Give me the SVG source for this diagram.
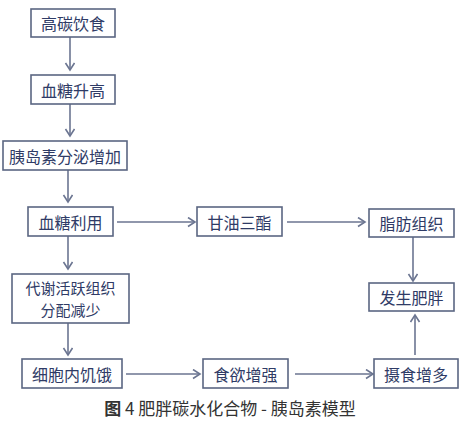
<svg xmlns="http://www.w3.org/2000/svg" width="474" height="431" viewBox="0 0 474 431">
<defs>
<style>
.box{fill:#ffffff;stroke:#5b6682;stroke-width:1.6}
.t{font-family:"Noto Sans CJK SC","Noto Sans",sans-serif;font-size:16px;fill:#2f3b66;text-anchor:middle;dominant-baseline:central}
.t2{font-size:15px}
.c{stroke:#6b7591;stroke-width:1.6;fill:none;marker-end:url(#ah)}
.cap{font-family:"Noto Sans CJK SC",sans-serif;font-size:17px;fill:#333333;text-anchor:middle}
</style>
<marker id="ah" markerUnits="userSpaceOnUse" markerWidth="12" markerHeight="12" refX="8" refY="5" orient="auto">
<path d="M1,0.5 L8,5 L1,9.5" fill="none" stroke="#6b7591" stroke-width="1.6"/>
</marker>
</defs>
<rect width="474" height="431" fill="#ffffff"/>
<g id="connectors">
<line class="c" x1="70" y1="37" x2="70" y2="70"/>
<line class="c" x1="70" y1="104" x2="70" y2="136"/>
<line class="c" x1="68" y1="170" x2="68" y2="202"/>
<line class="c" x1="68" y1="236" x2="68" y2="269"/>
<line class="c" x1="68" y1="323" x2="68" y2="355"/>
<line class="c" x1="117" y1="222" x2="195" y2="222"/>
<line class="c" x1="287" y1="222" x2="365" y2="222"/>
<line class="c" x1="413" y1="237" x2="413" y2="281"/>
<line class="c" x1="415" y1="355" x2="415" y2="315"/>
<line class="c" x1="126" y1="374" x2="200" y2="374"/>
<line class="c" x1="295" y1="374" x2="373" y2="374"/>
</g>
<g id="n1"><rect class="box" x="31" y="9" width="84" height="28"/><text class="t" x="73" y="23">高碳饮食</text></g>
<g id="n2"><rect class="box" x="31" y="75" width="84" height="29"/><text class="t" x="73" y="89.5">血糖升高</text></g>
<g id="n3"><rect class="box" x="3" y="141" width="124" height="29"/><text class="t" x="65" y="155.5">胰岛素分泌增加</text></g>
<g id="n4"><rect class="box" x="28" y="207" width="85" height="29"/><text class="t" x="70.5" y="221.5">血糖利用</text></g>
<g id="n5"><rect class="box" x="197" y="207" width="85" height="29"/><text class="t" x="239.5" y="221.5">甘油三酯</text></g>
<g id="n6"><rect class="box" x="369" y="209" width="85" height="28"/><text class="t" x="411.5" y="223">脂肪组织</text></g>
<g id="n7"><rect class="box" x="369" y="283" width="85" height="28"/><text class="t" x="411.5" y="297">发生肥胖</text></g>
<g id="n8"><rect class="box" x="12" y="274" width="117" height="49"/><text class="t t2" x="70.5" y="287">代谢活跃组织</text><text class="t t2" x="70.5" y="309">分配减少</text></g>
<g id="n9"><rect class="box" x="22" y="359" width="100" height="29"/><text class="t" x="72" y="373.5">细胞内饥饿</text></g>
<g id="n10"><rect class="box" x="203" y="359" width="85" height="29"/><text class="t" x="245.5" y="373.5">食欲增强</text></g>
<g id="n11"><rect class="box" x="374" y="359" width="84" height="29"/><text class="t" x="416" y="373.5">摄食增多</text></g>
<text class="cap" x="230" y="415"><tspan font-weight="bold">图</tspan> 4 肥胖碳水化合物 - 胰岛素模型</text>
</svg>
